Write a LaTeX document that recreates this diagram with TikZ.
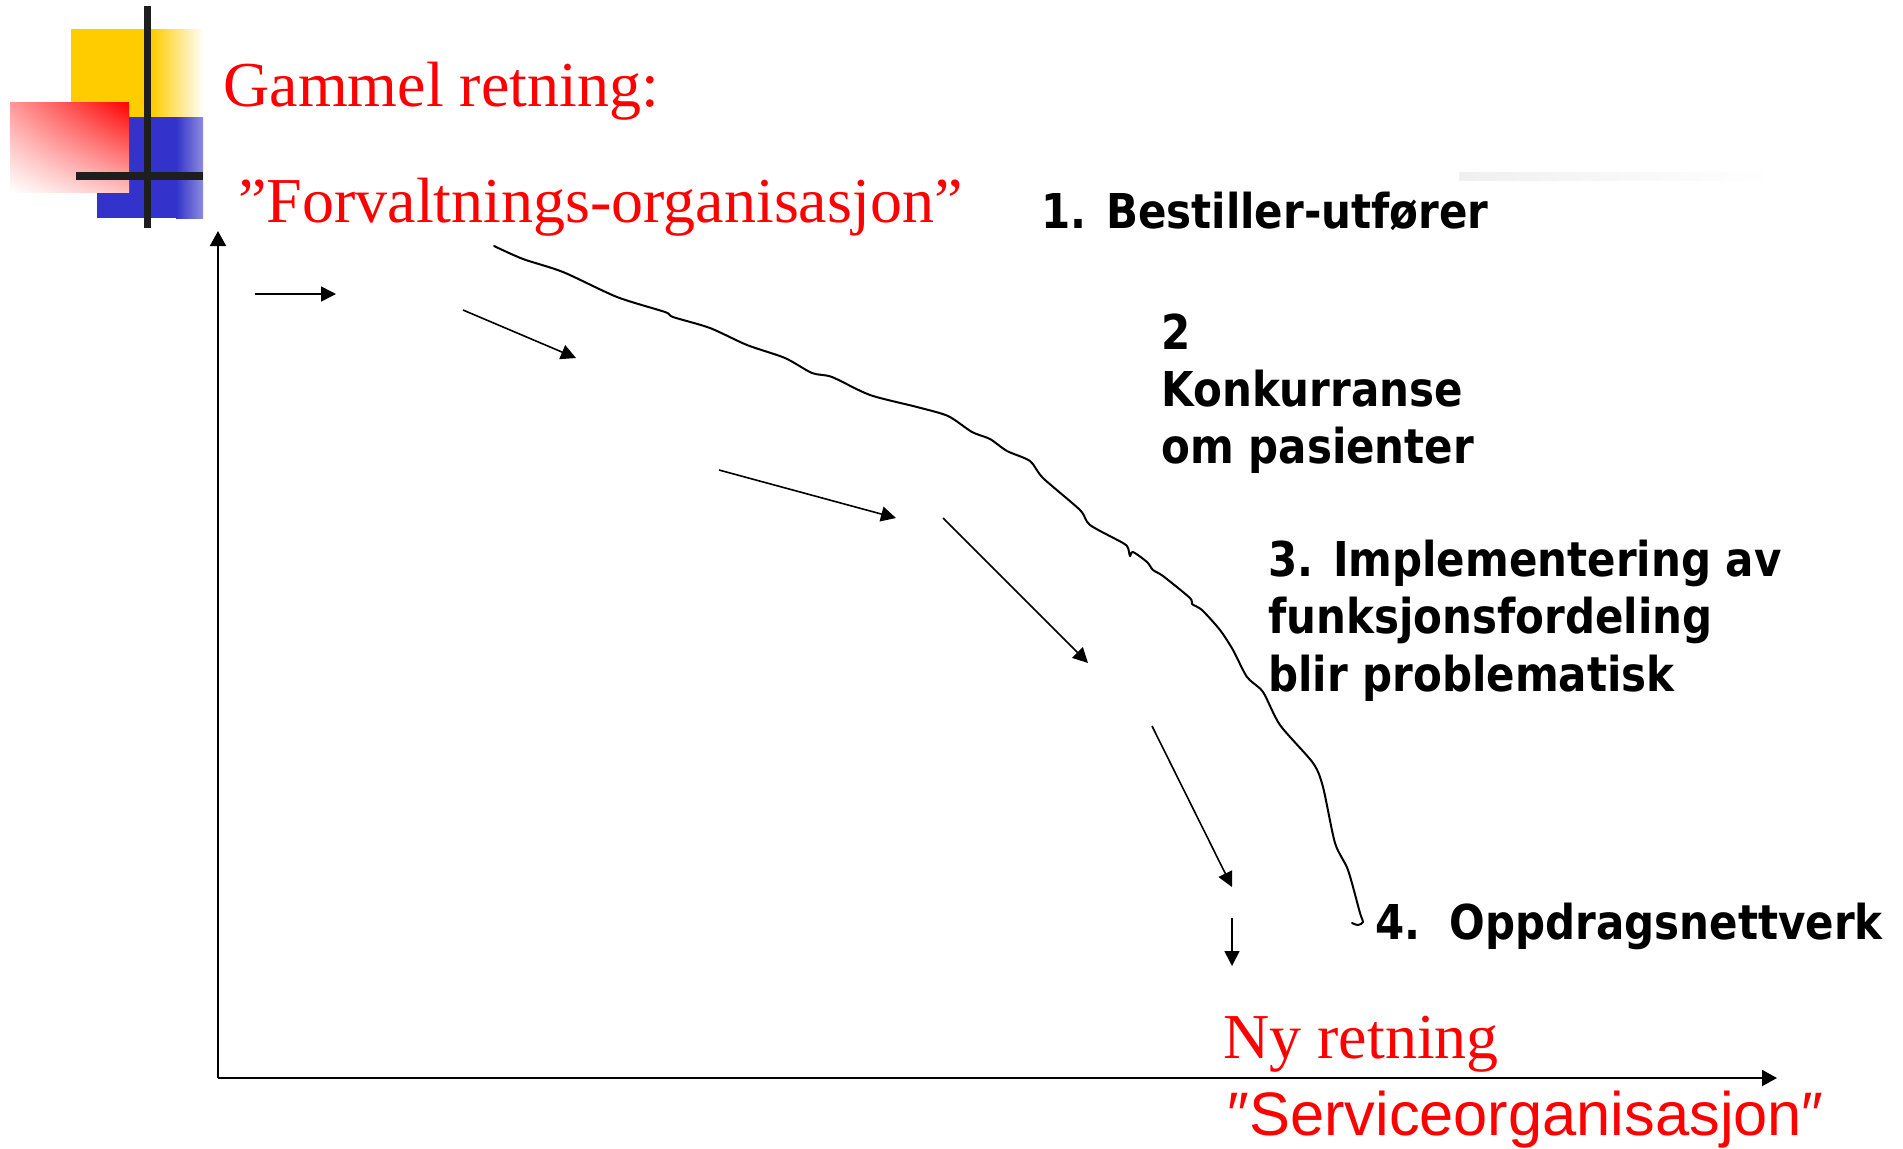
\documentclass[tikz,border=0pt]{standalone}
\usepackage{fontspec}
\setmainfont{Liberation Serif}
\newfontfamily\lblfont[FakeStretch=0.875]{DejaVu Sans Bold}
\newfontfamily\svcfont{Liberation Sans}
\usetikzlibrary{arrows.meta,shadings}
\definecolor{redtxt}{RGB}{255,0,0}
\definecolor{logoyellow}{RGB}{255,204,0}
\definecolor{logoblue}{RGB}{51,51,204}
\definecolor{logobluelight}{RGB}{140,140,222}
\definecolor{logobar}{RGB}{30,30,30}
\begin{document}
\begin{tikzpicture}[x=0.5pt,y=-0.5pt,
  redtitle/.style={font=\fontsize{32}{38}\selectfont, text=redtxt, inner sep=0pt, anchor=base west},
  svctitle/.style={font=\svcfont\fontsize{30.7}{36}\selectfont, text=redtxt, inner sep=0pt, anchor=base west},
  lbl/.style={font=\lblfont\fontsize{24}{28}\selectfont, inner sep=0pt, anchor=base west},
  axisline/.style={line width=1pt, -{Triangle[length=7.5pt,width=8pt]}},
  flowarrow/.style={line width=0.8pt, -{Triangle[length=7.5pt,width=7.5pt]}},
  ridge/.style={line width=1pt, line join=round, line cap=round}
]
\useasboundingbox (0,0) rectangle (1903,1148);
\fill[white] (0,0) rectangle (1903,1148);

% logo
\fill[logoyellow] (71,29) rectangle (152,117);
\shade[left color=logoyellow, right color=white] (152,29) rectangle (204,117);
\fill[logoblue] (97,117) rectangle (176,218);
\shade[left color=logoblue, right color=logobluelight] (176,117) rectangle (203,218);
\shade[upper right=red, upper left=red!40, lower left=white, lower right=red!25] (10,102) rectangle (129,192);
\fill[logobar] (76,172) rectangle (203,180);
\fill[logobar] (144,6) rectangle (151,228);
% faint template line
\shade[left color=black!6, right color=white] (1459,172) rectangle (1773,180);

% titles
\node[redtitle] (old1) at (223,106) {Gammel retning:};
\node[redtitle] (old2) at (238,222) {”Forvaltnings-organisasjon”};
\node[redtitle] (new1) at (1223,1058) {Ny retning};
\node[svctitle] (new2) at (1227,1135) {″Serviceorganisasjon″};

% labels
\node[lbl] (l1) at (1041,228) {1. Bestiller-utfører};
\node[lbl] (l2a) at (1161,349) {2};
\node[lbl] (l2b) at (1161,406) {Konkurranse};
\node[lbl] (l2c) at (1161,463) {om pasienter};
\node[lbl] (l3a) at (1268,576) {3. Implementering av};
\node[lbl] (l3b) at (1268,633) {funksjonsfordeling};
\node[lbl] (l3c) at (1268,691) {blir problematisk};
\node[lbl] (l4) at (1375,939) {4.\ \ Oppdragsnettverk};

% axes
\coordinate (origin) at (218,1078);
\coordinate (ytop) at (218,231);
\coordinate (xend) at (1777,1078);
\draw[axisline] (origin) -- (ytop);
\draw[axisline] (origin) -- (xend);

% flow arrows
\coordinate (a1s) at (255,294); \coordinate (a1e) at (336,294);
\coordinate (a2s) at (463,310); \coordinate (a2e) at (576,358);
\coordinate (a3s) at (719,470); \coordinate (a3e) at (896,518);
\coordinate (a4s) at (943,518); \coordinate (a4e) at (1088,663);
\coordinate (a5s) at (1152,726); \coordinate (a5e) at (1232,887);
\coordinate (a6s) at (1232,918); \coordinate (a6e) at (1232,966);
\draw[flowarrow] (a1s) -- (a1e);
\draw[flowarrow] (a2s) -- (a2e);
\draw[flowarrow] (a3s) -- (a3e);
\draw[flowarrow] (a4s) -- (a4e);
\draw[flowarrow] (a5s) -- (a5e);
\draw[flowarrow] (a6s) -- (a6e);

% wavy frontier curve
\draw[ridge] plot[smooth, tension=0.45] coordinates {
 (494,246) (523,259) (563,272) (617,297) (665,312) (673,317) (710,328)
 (747,345) (785,358) (812,373) (832,377) (870,395) (917,407) (948,416)
 (972,432) (990,439) (1007,451) (1030,461) (1043,478) (1080,510)
 (1090,525) (1123,543) (1128,548) (1130,556) (1133,552) (1147,562)
 (1153,570) (1163,576) (1190,598) (1192,604) (1202,610) (1220,630)
 (1233,650) (1247,677) (1263,692) (1280,725) (1313,763) (1323,787)
 (1335,843) (1348,870) (1360,913) (1363,922) (1358,925) (1352,923)};
\end{tikzpicture}
\end{document}
